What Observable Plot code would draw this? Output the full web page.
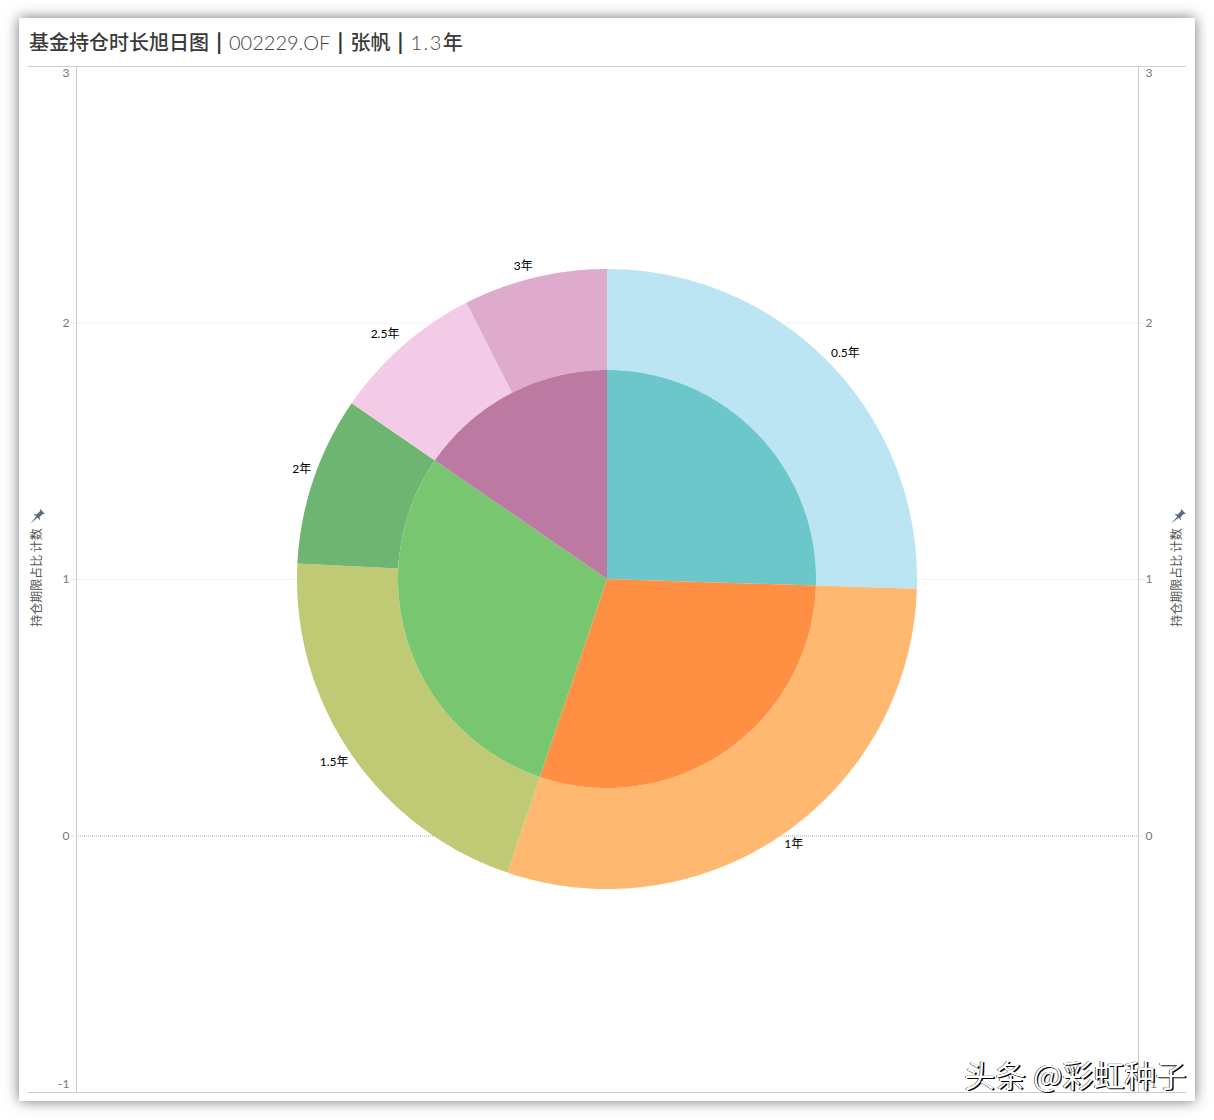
<!DOCTYPE html>
<html lang="zh">
<head>
<meta charset="utf-8">
<script src="https://cdn.jsdelivr.net/npm/d3@7"></script>
<script src="https://cdn.jsdelivr.net/npm/@observablehq/plot@0.6"></script>
<style>
  html, body { margin: 0; padding: 0; background: #fff; }
  body { width: 1214px; height: 1120px; position: relative; overflow: hidden; font-family: Lato, "Noto Sans CJK SC", sans-serif; }
  #card { position: absolute; left: 19px; top: 18px; width: 1176px; height: 1083px; background: #fff; box-shadow: 0 0 13px rgba(0,0,0,.55); }
  #title { position: absolute; left: 29px; top: 27px; font-size: 20px; line-height: 30px; color: #444; white-space: pre; font-family: Lato, "Noto Sans CJK SC", sans-serif; font-weight: 300; }
  #title b { font-weight: 500; color: #3a3a3a; font-family: "Noto Sans CJK SC", sans-serif; }
  #title i { font-style: normal; display: inline-block; width: 20px; text-align: center; font-weight: 700; color: #333; font-size: 22px; line-height: 30px; }
  #title u { text-decoration: none; letter-spacing: 1.5px; }
  #chart { position: absolute; left: 19px; top: 60px; }
  #chart svg { display: block; overflow: visible; background: transparent; }
  #mark { position: absolute; left: 964px; top: 1052px; font-family: "Noto Sans CJK SC", sans-serif; font-size: 31px; line-height: 44px; color: #fff; white-space: pre; text-shadow: 1.4px 1.4px 0 #000, -0.4px 0.4px 0 #000; }
</style>
</head>
<body>
<div id="card"></div>
<div id="title"><b>基金持仓时长旭日图</b><i>|</i>002229.OF<i>|</i><b>张帆</b><i>|</i><u>1.3</u><b>年</b></div>
<div id="chart"></div>
<div id="mark">头条 @彩虹种子</div>
<script>
// Data
const periods     = ["0.5年", "1年", "1.5年", "2年", "2.5年", "3年"];
const ringShares  = [25.5, 29.7, 20.6, 8.8, 7.9, 7.5];
const ringColors  = ["#bbe5f3", "#ffb86f", "#c0ca74", "#6db570", "#f3cbe7", "#dfabcc"];
const coreGroups  = ["0.5年组", "1年组", "1.5-2年组", "2.5-3年组"];
const coreShares  = [25.5, 29.7, 29.4, 15.4];
const coreColors  = ["#6cc7ca", "#ff8f42", "#78c770", "#bc7aa3"];
const yTicksPlain = [0, 1, 2];
const axisLabel   = "持仓期限占比 计数";

// Layout: pixels per y unit, radii in y units, pie centre, label nudges in pixels
const unit = 256.5;
const centerX = 0, centerY = 1;
const ringOuter = 310 / unit, ringInner = 209 / unit, labelRadius = 327 / unit;
const labelNudge = [[3, 1], [0, -4], [-3, -1], [4, -5], [-7, 1], [-8, 5]];

function wedges(names, shares, rIn, rOut) {
  const total = d3.sum(shares);
  const pts = [];
  let cum = 0;
  names.forEach((name, i) => {
    const a0 = cum / total * 2 * Math.PI;
    cum += shares[i];
    const a1 = cum / total * 2 * Math.PI;
    const n = Math.max(2, Math.ceil((a1 - a0) / 0.01));
    for (let k = 0; k <= n; k++) {
      const a = a0 + (a1 - a0) * k / n;
      pts.push({
        name,
        xo: centerX + rOut * Math.sin(a), yo: centerY + rOut * Math.cos(a),
        xi: centerX + rIn * Math.sin(a),  yi: centerY + rIn * Math.cos(a)
      });
    }
  });
  return pts;
}

function labels(names, shares, r) {
  const total = d3.sum(shares);
  let cum = 0;
  return names.map((name, i) => {
    const a = (cum + shares[i] / 2) / total * 2 * Math.PI;
    cum += shares[i];
    return { name, x: centerX + r * Math.sin(a), y: centerY + r * Math.cos(a) };
  });
}

// Pushpin glyph beside each axis title
const pin = {
  draw(ctx) {
    const p = (u, v) => [(u + v) / Math.SQRT2, (v - u) / Math.SQRT2];
    const path = [[8.5, -3.4], [8.5, 3.4], [6.8, 2], [2.2, 2], [0.5, 4.8], [0.5, 0.9], [-8.5, 0], [0.5, -0.9], [0.5, -4.8], [2.2, -2], [6.8, -2]];
    path.forEach((q, i) => { const [x, y] = p(q[0], q[1]); i ? ctx.lineTo(x, y) : ctx.moveTo(x, y); });
    ctx.closePath();
  }
};

const axisFont = { fill: "#777", stroke: "#e8e8e8", fontSize: 12, tickFormat: d => String(d) };
const titleFont = { fill: "#555", fontSize: 12, fontFamily: '"Noto Sans CJK SC", sans-serif', textAnchor: "middle", rotate: -90 };

const chart = Plot.plot({
  width: 1176,
  height: 1041,
  marginLeft: 57,
  marginRight: 57,
  marginTop: 6,
  marginBottom: 9,
  style: { background: "transparent", fontFamily: 'Lato, "Noto Sans CJK SC", sans-serif', fontSize: "12px", overflow: "visible" },
  x: { domain: [-531 / unit, 531 / unit], axis: null },
  y: { domain: [-1, 3], axis: null },
  color: {
    domain: [...periods, ...coreGroups],
    range: [...ringColors, ...coreColors]
  },
  marks: [
    // Frame lines and grid
    Plot.ruleY([1, 2], { stroke: "#f2f2f2", strokeWidth: 1 }),
    Plot.ruleY([0], { stroke: "#aaa", strokeWidth: 1, strokeDasharray: "1,1" }),
    Plot.ruleX([-531 / unit, 531 / unit], { stroke: "#ccc", strokeWidth: 1 }),
    Plot.ruleY([3, -1], { x1: () => -579 / unit, x2: () => 579 / unit, stroke: "#ccc", strokeWidth: 1 }),

    // Left axis
    Plot.axisY({ ticks: yTicksPlain, anchor: "left", label: null, tickSize: 5, tickPadding: 2, ...axisFont }),
    Plot.axisY({ ticks: [3], anchor: "left", label: null, tickSize: 0, tickPadding: 7, dy: 7, ...axisFont }),
    Plot.axisY({ ticks: [-1], anchor: "left", label: null, tickSize: 0, tickPadding: 7, dy: -8, ...axisFont }),
    // Right axis
    Plot.axisY({ ticks: yTicksPlain, anchor: "right", label: null, tickSize: 5, tickPadding: 2, ...axisFont }),
    Plot.axisY({ ticks: [3], anchor: "right", label: null, tickSize: 0, tickPadding: 7, dy: 7, ...axisFont }),
    Plot.axisY({ ticks: [-1], anchor: "right", label: null, tickSize: 0, tickPadding: 7, dy: -8, ...axisFont }),

    // Axis titles and pins
    Plot.text([axisLabel], { text: d => d, frameAnchor: "left", y: () => 1, dx: -39, dy: -2, ...titleFont }),
    Plot.text([axisLabel], { text: d => d, frameAnchor: "right", y: () => 1, dx: 39, dy: -2, ...titleFont }),
    Plot.dot([0], { frameAnchor: "left", y: () => 1, dx: -40, dy: -62, symbol: pin, fill: "#5d6c7c", stroke: "none", r: 6 }),
    Plot.dot([0], { frameAnchor: "right", y: () => 1, dx: 39, dy: -62, symbol: pin, fill: "#5d6c7c", stroke: "none", r: 6 }),

    // Outer ring
    Plot.area(wedges(periods, ringShares, ringInner, ringOuter), {
      x1: "xo", y1: "yo", x2: "xi", y2: "yi", z: "name", fill: "name", curve: "linear"
    }),
    // Inner pie
    Plot.area(wedges(coreGroups, coreShares, 0, ringInner), {
      x1: "xo", y1: "yo", x2: "xi", y2: "yi", z: "name", fill: "name", curve: "linear"
    }),
    // Period labels
    ...labels(periods, ringShares, labelRadius).map((d, i) =>
      Plot.text([d], { x: "x", y: "y", text: "name", fill: "#000", fontSize: 12, dx: labelNudge[i][0], dy: labelNudge[i][1] })
    )
  ]
});
document.getElementById("chart").appendChild(chart);
</script>
</body>
</html>
